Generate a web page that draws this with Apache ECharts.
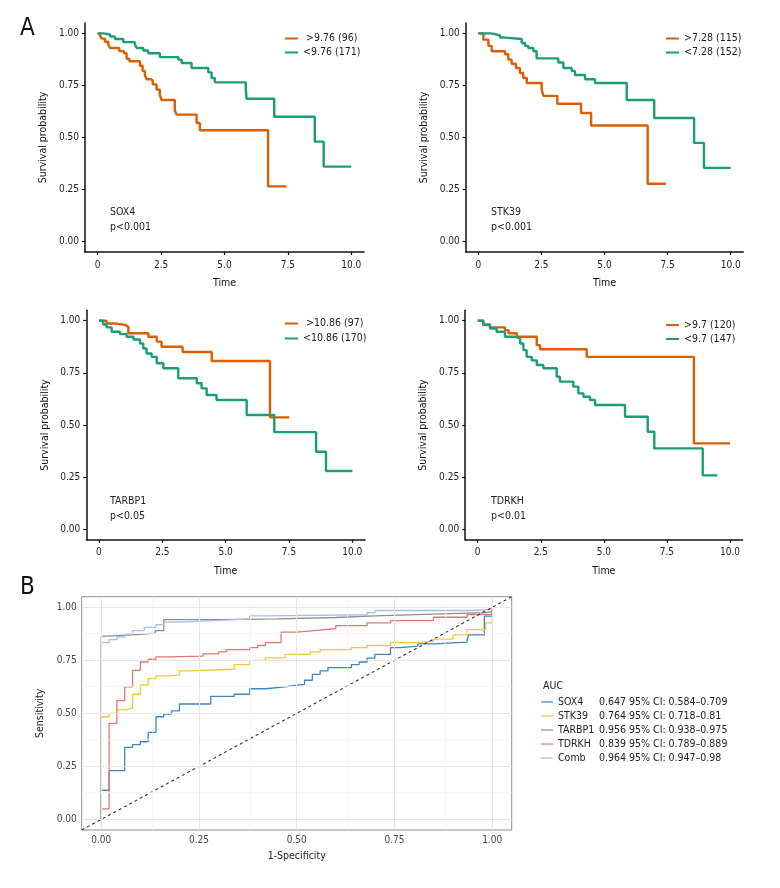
<!DOCTYPE html>
<html><head><meta charset="utf-8">
<script src="https://cdn.jsdelivr.net/npm/echarts@6/dist/echarts.min.js"></script>
<style>html,body{margin:0;padding:0;background:#fff}#c{width:780px;height:888px}</style>
</head><body><div id="c"></div>
<script>
// ---------- Kaplan-Meier data: [time, survival] step points ----------
const sox4High = [[0,1],[0.09,0.989],[0.16,0.975],[0.29,0.96],[0.42,0.945],[0.49,0.93],[0.85,0.915],[1.04,0.905],[1.14,0.878],[1.25,0.866],[1.67,0.845],[1.77,0.82],[1.86,0.8],[1.93,0.78],[2.09,0.775],[2.17,0.755],[2.32,0.73],[2.45,0.705],[2.52,0.68],[3.04,0.63],[3.11,0.61],[3.9,0.57],[4.03,0.535],[6.72,0.265],[7.44,0.265]];
const sox4Low = [[0,1],[0.22,0.995],[0.49,0.985],[0.68,0.973],[1.01,0.958],[1.47,0.946],[1.54,0.93],[1.8,0.918],[1.99,0.905],[2.45,0.886],[3.18,0.874],[3.31,0.858],[3.7,0.834],[4.36,0.813],[4.49,0.786],[4.62,0.765],[5.84,0.73],[5.87,0.686],[6.96,0.6],[8.56,0.48],[8.91,0.36],[10.0,0.36]];
const stk39High = [[0,1],[0.2,0.97],[0.4,0.94],[0.53,0.914],[1.06,0.9],[1.19,0.874],[1.32,0.854],[1.49,0.834],[1.65,0.81],[1.78,0.786],[1.92,0.762],[2.51,0.73],[2.58,0.70],[3.13,0.662],[4.07,0.618],[4.47,0.558],[6.71,0.278],[7.44,0.278]];
const stk39Low = [[0,1],[0.46,0.997],[0.66,0.99],[0.86,0.98],[1.06,0.973],[1.72,0.954],[1.85,0.94],[1.98,0.93],[2.18,0.914],[2.31,0.88],[3.17,0.86],[3.37,0.834],[3.7,0.82],[3.83,0.8],[4.23,0.78],[4.62,0.762],[5.88,0.68],[6.97,0.594],[8.55,0.474],[8.94,0.354],[10,0.354]];
const tarbp1High = [[0,1],[0.3,0.987],[0.63,0.98],[1.03,0.971],[1.16,0.94],[1.95,0.923],[2.28,0.9],[2.47,0.875],[3.3,0.85],[4.45,0.807],[6.75,0.537],[7.51,0.537]];
const tarbp1Low = [[0,1],[0.17,0.982],[0.3,0.968],[0.5,0.947],[0.83,0.936],[1.09,0.923],[1.36,0.91],[1.62,0.891],[1.75,0.867],[1.88,0.843],[2.08,0.827],[2.28,0.796],[2.54,0.772],[3.13,0.724],[3.86,0.7],[4.05,0.676],[4.25,0.644],[4.64,0.62],[5.83,0.548],[6.92,0.466],[8.57,0.372],[8.96,0.28],[10,0.28]];
const tdrkhHigh = [[0,1],[0.22,0.979],[0.49,0.968],[1.08,0.955],[1.22,0.94],[1.55,0.923],[2.34,0.883],[2.47,0.863],[4.32,0.827],[8.57,0.412],[10,0.412]];
const tdrkhLow = [[0,1],[0.22,0.982],[0.49,0.963],[0.75,0.947],[1.08,0.923],[1.5,0.915],[1.68,0.891],[1.81,0.859],[1.94,0.827],[2.14,0.81],[2.34,0.788],[2.6,0.772],[3.13,0.732],[3.26,0.708],[3.79,0.684],[3.99,0.652],[4.19,0.636],[4.45,0.62],[4.65,0.596],[5.84,0.54],[6.74,0.468],[7.0,0.388],[8.92,0.259],[9.5,0.259]];

const kmGenes = ['SOX4','STK39','TARBP1','TDRKH'];
const kmPvals = ['p<0.001','p<0.001','p<0.05','p<0.01'];
const kmHighNames = [' >9.76 (96)','>7.28 (115)',' >10.86 (97)','>9.7 (120)'];
const kmLowNames = ['<9.76 (171)','<7.28 (152)','<10.86 (170)','<9.7 (147)'];
const kmXTicks = [0,2.5,5,7.5,10];
const kmXLabels = ['0','2.5','5.0','7.5','10.0'];
const probTicks = [0,0.25,0.5,0.75,1];
const probLabels = ['0.00','0.25','0.50','0.75','1.00'];
const minorTicks = [0.125,0.375,0.625,0.875];

// ---------- ROC data: [1-specificity, sensitivity] step points ----------
const rocNames = ['SOX4','STK39','TARBP1','TDRKH','Comb'];
const rocAuc = ['0.647','0.764','0.956','0.839','0.964'];
const rocCi = ['0.584\u20130.709','0.718\u20130.81','0.938\u20130.975','0.789\u20130.889','0.947\u20130.98'];
const sox4Roc = [[0,0],[0,0.1375],[0.02,0.23],[0.06,0.34],[0.08,0.353],[0.1,0.366],[0.12,0.41],[0.14,0.484],[0.16,0.497],[0.18,0.512],[0.2,0.544],[0.28,0.58],[0.34,0.59],[0.38,0.616],[0.42,0.625],[0.47,0.633],[0.5,0.637],[0.52,0.656],[0.54,0.684],[0.56,0.7],[0.58,0.716],[0.64,0.73],[0.66,0.742],[0.68,0.76],[0.7,0.778],[0.74,0.81],[0.765,0.817],[0.81,0.828],[0.85,0.836],[0.936,0.848],[0.94,0.87],[0.98,0.958],[1,1]];
const stk39Roc = [[0,0],[0,0.484],[0.02,0.5],[0.04,0.516],[0.06,0.525],[0.08,0.59],[0.1,0.634],[0.12,0.664],[0.14,0.677],[0.18,0.681],[0.2,0.7],[0.22,0.708],[0.34,0.73],[0.38,0.75],[0.42,0.762],[0.47,0.778],[0.535,0.79],[0.56,0.8],[0.64,0.81],[0.68,0.82],[0.74,0.833],[0.81,0.84],[0.85,0.85],[0.9,0.87],[0.936,0.895],[0.983,0.927],[1,1]];
const tarbp1Roc = [[0,0],[0,0.864],[0.02,0.868],[0.05,0.872],[0.1,0.878],[0.138,0.89],[0.16,0.942],[0.3,0.945],[0.45,0.952],[0.6,0.96],[0.7,0.968],[0.85,0.975],[0.98,0.98],[1,1]];
const tdrkhRoc = [[0,0],[0,0.05],[0.02,0.453],[0.04,0.56],[0.06,0.625],[0.08,0.703],[0.1,0.742],[0.12,0.755],[0.14,0.766],[0.17,0.77],[0.26,0.78],[0.3,0.79],[0.32,0.8],[0.38,0.81],[0.4,0.82],[0.42,0.833],[0.46,0.883],[0.5,0.892],[0.56,0.9],[0.6,0.914],[0.68,0.927],[0.74,0.937],[0.85,0.953],[0.936,0.966],[1,1]];
const combRoc = [[0,0],[0,0.833],[0.02,0.848],[0.04,0.86],[0.06,0.875],[0.08,0.89],[0.11,0.905],[0.14,0.918],[0.16,0.93],[0.2,0.938],[0.3,0.945],[0.38,0.96],[0.42,0.965],[0.68,0.975],[0.7,0.985],[0.95,0.99],[1,1]];
const diagLine = [[-0.05,-0.05],[1.05,1.05]];

// ---------- styling ----------
const FONT = '"DejaVu Sans Condensed","Liberation Sans",sans-serif';
const FS = 10;
const ORANGE = '#D95F02', GREEN = '#1B9E77';
const rocColors = ['#3d85c6','#f1c83c','#8e8e8e','#e07777','#a3bfe6'];
const kmHigh = [sox4High, stk39High, tarbp1High, tdrkhHigh];
const kmLow = [sox4Low, stk39Low, tarbp1Low, tdrkhLow];
const rocData = [sox4Roc, stk39Roc, tarbp1Roc, tdrkhRoc, combRoc];

const kmGrids = [
  {left:85, top:23, width:279, height:229},
  {left:465.7, top:23, width:277.6, height:229},
  {left:86.3, top:310.3, width:278.7, height:229.5},
  {left:465.1, top:310.3, width:277.5, height:229.5}
];
const kmLegendPos = [
  {left:285, top:32, gap:1},
  {left:666, top:32, gap:1},
  {left:285, top:317, gap:2},
  {left:666, top:318.5, gap:1}
];
const kmNotePos = [[110,213],[491,213],[110,502],[491,502]];

const grid = kmGrids.slice();
grid.push({left:81.7, top:596.7, width:430, height:233.3, show:true, borderColor:'#8f8f8f', borderWidth:1, backgroundColor:'transparent'});

const xAxis = [], yAxis = [], series = [], legend = [], graphic = [];
for (let i=0;i<4;i++){
  xAxis.push({type:'value', gridIndex:i, min:-0.5, max:10.5, name:'Time', nameLocation:'middle', nameGap:26,
    nameTextStyle:{fontFamily:FONT, fontSize:FS+0.5, color:'#111'},
    axisLine:{show:true, onZero:false, lineStyle:{color:'#111', width:1.5}},
    axisTick:{show:true, length:3, customValues:kmXTicks, lineStyle:{color:'#111', width:1.2}},
    axisLabel:{customValues:kmXTicks, margin:8, fontFamily:FONT, fontSize:FS, color:'#222',
      formatter:(v)=>kmXLabels[kmXTicks.indexOf(v)] ?? ''},
    splitLine:{show:false}});
  yAxis.push({type:'value', gridIndex:i, min:-0.05, max:1.05, name:'Survival probability', nameLocation:'middle', nameGap:36,
    nameTextStyle:{fontFamily:FONT, fontSize:FS+0.5, color:'#111'},
    axisLine:{show:true, onZero:false, lineStyle:{color:'#111', width:1.5}},
    axisTick:{show:true, length:3, customValues:probTicks, lineStyle:{color:'#111', width:1.2}},
    axisLabel:{customValues:probTicks, margin:6, fontFamily:FONT, fontSize:FS, color:'#222',
      formatter:(v)=>probLabels[probTicks.indexOf(v)] ?? ''},
    splitLine:{show:false}});
  series.push({type:'line', name:kmHighNames[i], xAxisIndex:i, yAxisIndex:i, data:kmHigh[i], step:'end', showSymbol:false, symbol:'none',
    lineStyle:{color:ORANGE, width:2.4}, itemStyle:{color:ORANGE}, animation:false, z:3});
  series.push({type:'line', name:kmLowNames[i], xAxisIndex:i, yAxisIndex:i, data:kmLow[i], step:'end', showSymbol:false, symbol:'none',
    lineStyle:{color:GREEN, width:2.4}, itemStyle:{color:GREEN}, animation:false, z:3});
  legend.push({data:[kmHighNames[i], kmLowNames[i]], left:kmLegendPos[i].left, top:kmLegendPos[i].top, orient:'vertical',
    itemGap:kmLegendPos[i].gap, itemWidth:13, itemHeight:2, icon:'rect', selectedMode:false,
    textStyle:{fontFamily:FONT, fontSize:FS+0.5, color:'#222', lineHeight:13}, padding:0});
  graphic.push({type:'text', left:kmNotePos[i][0], top:kmNotePos[i][1]-6, style:{text:kmGenes[i], font:(FS+0.5)+'px '+FONT, fill:'#222'}});
  graphic.push({type:'text', left:kmNotePos[i][0], top:kmNotePos[i][1]+9, style:{text:kmPvals[i], font:(FS+0.5)+'px '+FONT, fill:'#222'}});
}
// ROC axes
xAxis.push({type:'value', gridIndex:4, min:-0.05, max:1.05, name:'1-Specificity', nameLocation:'middle', nameGap:21,
  nameTextStyle:{fontFamily:FONT, fontSize:FS+0.5, color:'#222'},
  axisLine:{show:false}, 
  axisTick:{show:true, length:3, customValues:probTicks, lineStyle:{color:'#8f8f8f'}},
  axisLabel:{customValues:probTicks, margin:5, fontFamily:FONT, fontSize:FS, color:'#444',
    formatter:(v)=>probLabels[probTicks.indexOf(v)] ?? ''},
  splitLine:{show:false}});
yAxis.push({type:'value', gridIndex:4, min:-0.05, max:1.05, name:'Sensitivity', nameLocation:'middle', nameGap:34,
  nameTextStyle:{fontFamily:FONT, fontSize:FS+0.5, color:'#222'},
  axisLine:{show:false},
  axisTick:{show:true, length:3, customValues:probTicks, lineStyle:{color:'#8f8f8f'}},
  axisLabel:{customValues:probTicks, margin:5, fontFamily:FONT, fontSize:FS, color:'#444',
    formatter:(v)=>probLabels[probTicks.indexOf(v)] ?? ''},
  splitLine:{show:false}});

// gridlines for ROC panel
const gl = [];
probTicks.forEach(v=>{gl.push({xAxis:v, lineStyle:{color:'#e6e6e6', width:1, type:'solid'}}); gl.push({yAxis:v, lineStyle:{color:'#e6e6e6', width:1, type:'solid'}});});
minorTicks.forEach(v=>{gl.push({xAxis:v, lineStyle:{color:'#f3f3f3', width:0.7, type:'solid'}}); gl.push({yAxis:v, lineStyle:{color:'#f3f3f3', width:0.7, type:'solid'}});});
series.push({type:'line', name:'grid', xAxisIndex:4, yAxisIndex:4, data:[], silent:true, animation:false, z:1,
  markLine:{silent:true, symbol:['none','none'], label:{show:false}, animation:false, data:gl}});

rocNames.forEach((n,i)=>{
  series.push({type:'line', name:n, xAxisIndex:4, yAxisIndex:4, data:rocData[i], step:'end', showSymbol:false, symbol:'none',
    lineStyle:{color:rocColors[i], width:1.3}, itemStyle:{color:rocColors[i]}, animation:false, z:3});
});
series.push({type:'line', name:'diag', xAxisIndex:4, yAxisIndex:4, data:diagLine, showSymbol:false, symbol:'none',
  lineStyle:{color:'#333', width:1.1, type:[3,3]}, animation:false, z:4});

legend.push({data:rocNames, left:541, top:695.5, orient:'vertical', itemGap:1, itemWidth:12, itemHeight:1.2, icon:'rect',
  selectedMode:false, padding:0,
  textStyle:{fontFamily:FONT, fontSize:FS+0.5, color:'#222', lineHeight:13,
    rich:{n:{width:41, fontFamily:FONT, fontSize:FS+0.5, color:'#222'}, v:{fontFamily:FONT, fontSize:FS+0.5, color:'#222'}}},
  formatter:(name)=>{const i=rocNames.indexOf(name); return '{n|'+name+'}{v|'+rocAuc[i]+' 95% CI: '+rocCi[i]+'}';}});

graphic.push({type:'text', left:543, top:681, style:{text:'AUC', font:(FS+0.5)+'px '+FONT, fill:'#222'}});
graphic.push({type:'text', left:20, top:17, style:{text:'A', font:'24px '+FONT, fill:'#111'}});
graphic.push({type:'text', left:20, top:576, style:{text:'B', font:'24px '+FONT, fill:'#111'}});

const chart = echarts.init(document.getElementById('c'), null, {renderer:'canvas'});
chart.setOption({animation:false, backgroundColor:'#fff', grid, xAxis, yAxis, series, legend, graphic});
</script></body></html>
